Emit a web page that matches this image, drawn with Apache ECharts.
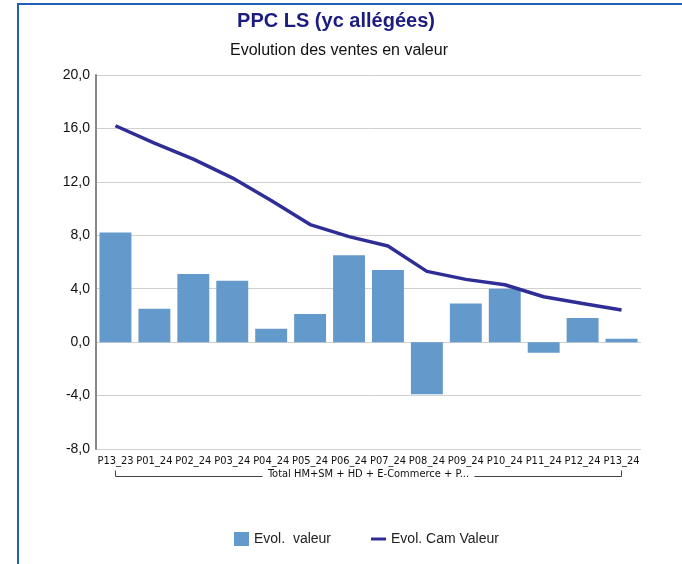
<!DOCTYPE html>
<html>
<head>
<meta charset="utf-8">
<script src="https://cdn.jsdelivr.net/npm/echarts@6/dist/echarts.min.js"></script>
<style>
    html, body { margin: 0; padding: 0; background: #fff; }
    #frame { position: absolute; left: 17px; top: 3px; width: 700px; height: 600px;
             border-left: 2px solid #1f5fb8; border-top: 2px solid #1f5fb8; }
    #main { position: absolute; left: 0; top: 0; width: 682px; height: 564px; }
</style>
</head>
<body>
<div id="frame"></div>
<div id="main"></div>
<script>
var categories = ['P13_23', 'P01_24', 'P02_24', 'P03_24', 'P04_24', 'P05_24', 'P06_24',
    'P07_24', 'P08_24', 'P09_24', 'P10_24', 'P11_24', 'P12_24', 'P13_24'];
var evolValeur = [8.2, 2.5, 5.1, 4.6, 1.0, 2.1, 6.5, 5.4, -3.9, 2.9, 4.0, -0.8, 1.8, 0.25];
var evolCam = [16.2, 14.9, 13.7, 12.3, 10.6, 8.8, 7.9, 7.2, 5.3, 4.7, 4.3, 3.4, 2.9, 2.4];
var groupLabel = 'Total HM+SM + HD + E-Commerce + P...';

var font = 'Liberation Sans';
var narrow = 'DejaVu Sans Condensed';
var chart = echarts.init(document.getElementById('main'));

chart.setOption({
    animation: false,
    title: [{
        text: 'PPC LS (yc allégées)',
        left: 331,
        top: 6,
        textAlign: 'center',
        textStyle: { fontFamily: font, fontSize: 20, fontWeight: 'bold', color: '#1c1c80' }
    }, {
        text: 'Evolution des ventes en valeur',
        left: 334,
        top: 38,
        textAlign: 'center',
        textStyle: { fontFamily: font, fontSize: 16, fontWeight: 'normal', color: '#111' }
    }],
    legend: {
        bottom: 13,
        left: 229,
        itemGap: 40,
        itemWidth: 15,
        itemHeight: 14,
        textStyle: { fontFamily: font, fontSize: 14, color: '#222' },
        data: [
            { name: 'Evol.  valeur', icon: 'rect' },
            { name: 'Evol. Cam Valeur', icon: 'path://M0,0L20,0L20,4L0,4Z', itemStyle: { color: '#2e2e96' } }
        ]
    },
    grid: { left: 96, right: 41, top: 75, bottom: 115 },
    xAxis: {
        type: 'category',
        data: categories,
        axisLine: { show: false },
        axisTick: { show: false },
        axisLabel: {
            interval: 0,
            margin: 7,
            fontFamily: narrow,
            fontSize: 11,
            color: '#111'
        }
    },
    yAxis: {
        type: 'value',
        min: -8,
        max: 20,
        interval: 4,
        axisLine: { show: true, lineStyle: { color: '#888', width: 2 } },
        axisTick: { show: false },
        axisLabel: {
            margin: 6,
            fontFamily: font,
            fontSize: 14,
            color: '#111',
            formatter: function (v) { return v.toFixed(1).replace('.', ','); }
        },
        splitLine: { lineStyle: { color: '#d0d0d0', width: 1 } }
    },
    series: [{
        name: 'Evol.  valeur',
        type: 'bar',
        data: evolValeur,
        barCategoryGap: '18%',
        itemStyle: { color: '#6499cb' }
    }, {
        name: 'Evol. Cam Valeur',
        type: 'line',
        data: evolCam,
        symbol: 'none',
        lineStyle: { color: '#2e2e96', width: 3.5 },
        itemStyle: { color: '#2e2e96' }
    }]
});

// group bracket under the category labels
var x0 = chart.convertToPixel({ xAxisIndex: 0 }, 0);
var x1 = chart.convertToPixel({ xAxisIndex: 0 }, categories.length - 1);
var xm = (x0 + x1) / 2;
var yb = 476.5;
var half = 106;
chart.setOption({
    graphic: [
        { type: 'polyline', shape: { points: [[x0, yb - 6], [x0, yb], [xm - half, yb]] },
          style: { stroke: '#444', lineWidth: 1, fill: null } },
        { type: 'polyline', shape: { points: [[xm + half, yb], [x1, yb], [x1, yb - 6]] },
          style: { stroke: '#444', lineWidth: 1, fill: null } },
        { type: 'text', x: xm, y: 474,
          style: { text: groupLabel, fontFamily: narrow, fontSize: 11, fill: '#111',
                   align: 'center', verticalAlign: 'middle' } }
    ]
});
</script>
</body>
</html>
